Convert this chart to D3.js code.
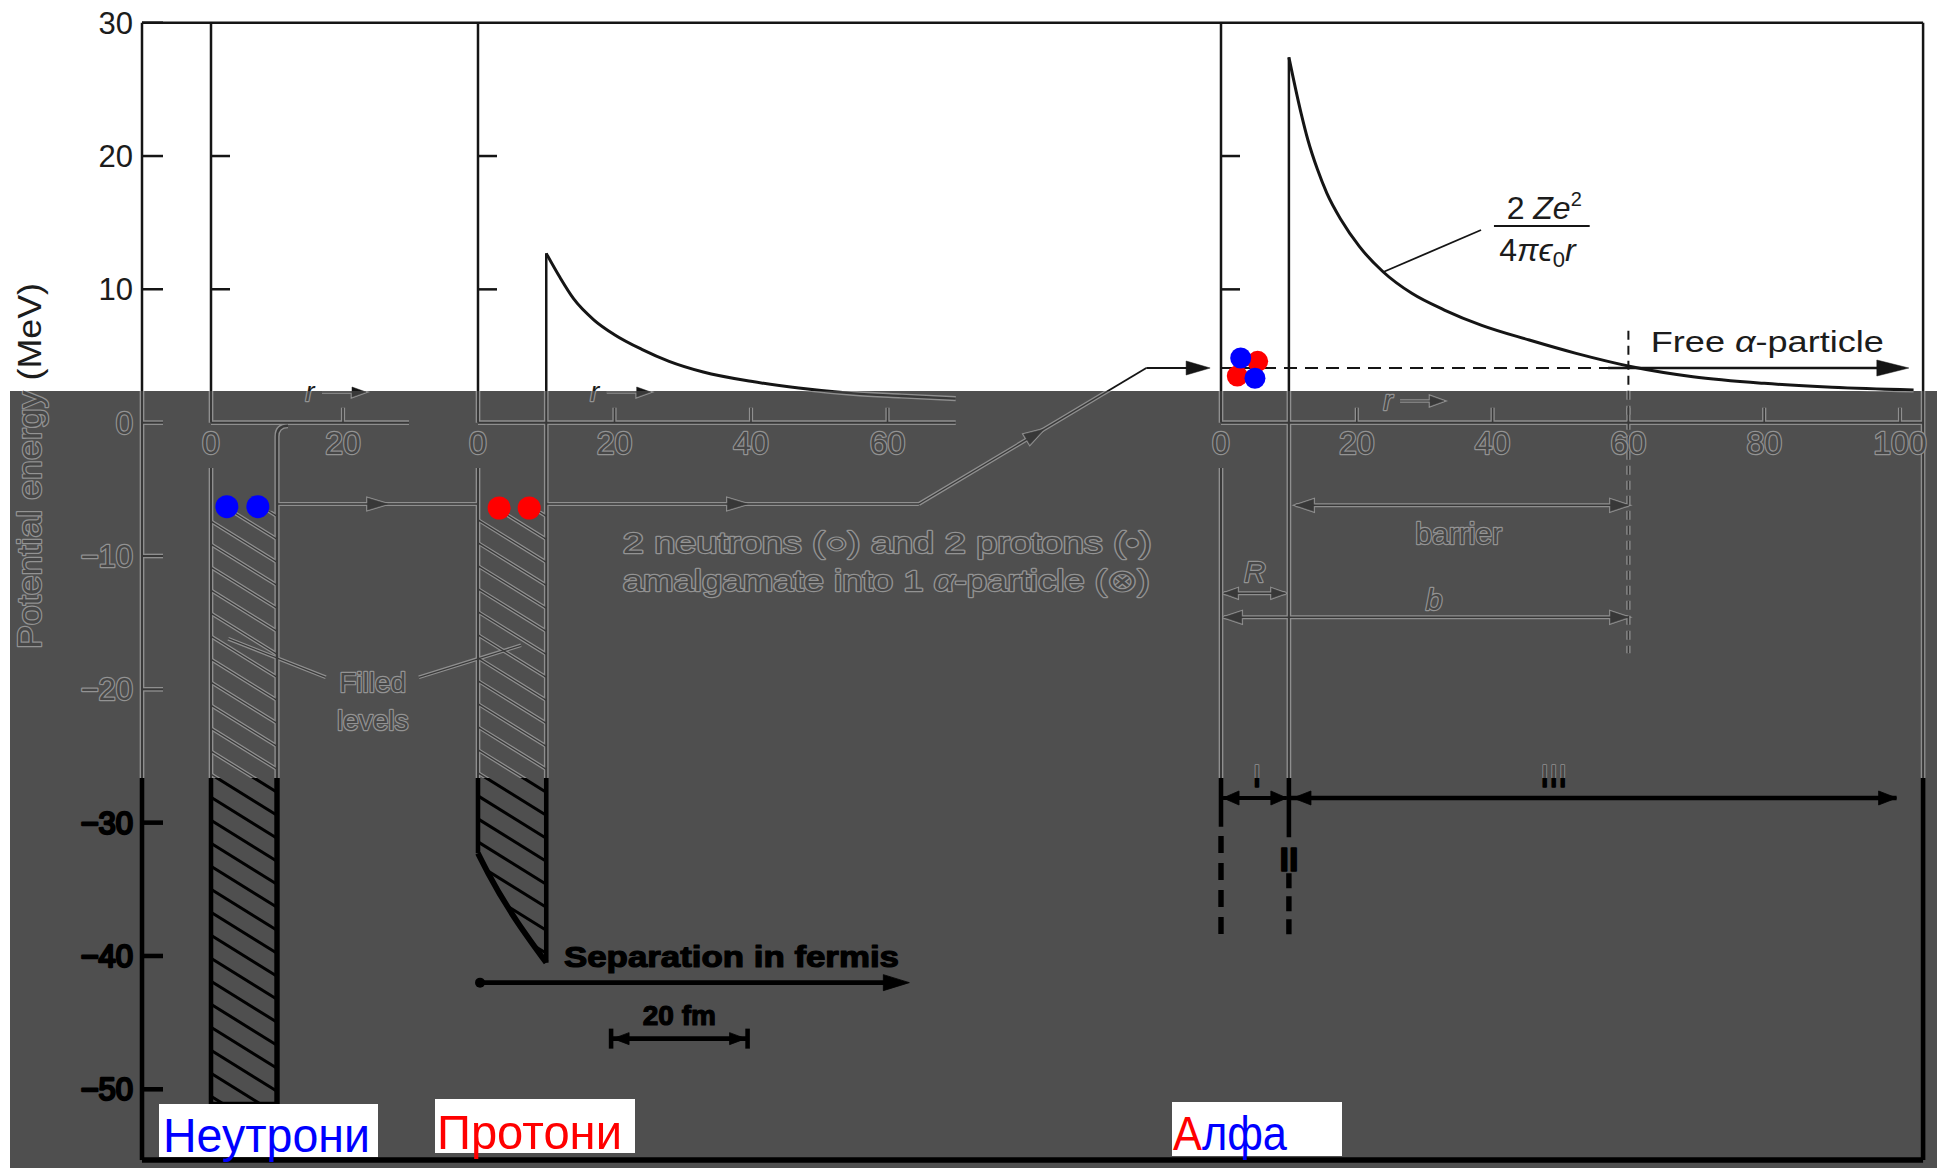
<!DOCTYPE html>
<html><head><meta charset="utf-8">
<script src="https://cdn.jsdelivr.net/npm/d3@7"></script>
<style>body{margin:0;background:#fff} svg{display:block} text{font-family:"Liberation Sans", Arial, sans-serif}</style>
</head><body>
<script>
// ---------------- data ----------------
const energyTicks = [30, 20, 10, 0, -10, -20, -30, -40, -50];
const panelInnerTicks = [20, 10];
const neutronTicks = [0, 20];
const protonTicks = [0, 20, 40, 60];
const alphaTicks = [0, 20, 40, 60, 80, 100];
const protonBarrier = [[10,12.7],[12,10.9],[14,9.3],[17,7.7],[20,6.6],[24,5.5],[28,4.6],[33,3.8],[40,3.1],[47,2.6],[55,2.2],[62,2.0],[70,1.8]];
const alphaBarrier = [[10,27.4],[11.8,23.2],[12.8,21.2],[14.2,19.0],[15.6,17.2],[17.7,15.2],[20.4,13.2],[23.9,11.3],[28.1,9.7],[32.9,8.45],[38.4,7.3],[45.4,6.2],[52.3,5.2],[60.5,4.2],[69.5,3.45],[80,2.95],[90,2.65],[102,2.45]];
const nucleonLevel = -6.1;
const alphaLevel = 4.1;
const nuclearRadius = 10;
const neutronWellDepth = -51.2;
const protonWellBottom = [[0,-32.3],[1.5,-33.8],[10,-40.5]];
const turningPoint = 60;
const neutronDots = [2.4, 7.1];
const protonDots = [3.1, 7.5];
const alphaCluster = [
  {r:5.4, v:4.6, c:"#ff0000"}, {r:2.4, v:3.5, c:"#ff0000"},
  {r:2.9, v:4.85, c:"#0000ff"}, {r:5.0, v:3.33, c:"#0000ff"}];
const bottomLabels = [
  {parts:[{t:"Неутрони", c:"#0000ff"}], box:[159,1104,219,53], tx:163, base:1152, len:207},
  {parts:[{t:"Протони", c:"#ff0000"}], box:[435,1099,200,54], tx:437, base:1149, len:185},
  {parts:[{t:"А", c:"#ff0000"},{t:"лфа", c:"#0000ff"}], box:[1172,1102,170,54], tx:1173, base:1150, len:114}
];

// ---------------- setup ----------------
const W = 1937, H = 1168;
const y  = d3.scaleLinear().domain([-50, 30]).range([1089.3, 22.7]);
const xN = d3.scaleLinear().domain([0, 20]).range([211, 343]);
const xP = d3.scaleLinear().domain([0, 20]).range([478, 614.5]);
const xA = d3.scaleLinear().domain([0, 100]).range([1221, 1900]);
const DARK_TOP = 391, DARK_LEFT = 10, BLACK_TOP = 778;
const TITLE_X = 41, TITLE_Y = 466;

const svg = d3.select("body").append("svg").attr("width", W).attr("height", H);
const defs = svg.append("defs");
defs.append("clipPath").attr("id","zA").append("path")
  .attr("clip-rule","evenodd")
  .attr("d",`M0,0H${W}V${H}H0Z M${DARK_LEFT},${DARK_TOP}H${W}V${H}H${DARK_LEFT}Z`);
defs.append("clipPath").attr("id","zB").append("rect")
  .attr("x",DARK_LEFT).attr("y",DARK_TOP).attr("width",W-DARK_LEFT).attr("height",BLACK_TOP-DARK_TOP);
defs.append("clipPath").attr("id","zC").append("rect")
  .attr("x",DARK_LEFT).attr("y",BLACK_TOP).attr("width",W-DARK_LEFT).attr("height",H-BLACK_TOP);

// text paints that change with the zone (one text element each)
function zoneGrad(id, cols, ops, transform) {
  const gr = defs.append("linearGradient").attr("id", id).attr("gradientUnits","userSpaceOnUse")
    .attr("x1",0).attr("y1",0).attr("x2",0).attr("y2",H);
  if (transform) gr.attr("gradientTransform", transform);
  [[0,0],[DARK_TOP/H,0],[DARK_TOP/H,1],[BLACK_TOP/H,1],[BLACK_TOP/H,2],[1,2]].forEach(([o,i]) =>
    gr.append("stop").attr("offset",o).attr("stop-color",cols[i]).attr("stop-opacity",ops[i]));
}
const fillCols = ["#1c1c1c","#474747","#000"], strokeCols = ["#000","#939393","#000"];
zoneGrad("tf", fillCols, [1,1,1]);
zoneGrad("ts", strokeCols, [0,1,1]);
zoneGrad("tfR", fillCols, [1,1,1], `rotate(90,${TITLE_X},${TITLE_Y})`);
zoneGrad("tsR", strokeCols, [0,1,1], `rotate(90,${TITLE_X},${TITLE_Y})`);

const yTopWall = y(-3.4);
const nx0 = xN(0), nx1 = xN(nuclearRadius), nyb = y(neutronWellDepth);
const px0 = xP(0), px1 = xP(nuclearRadius);
const ax0 = xA(0), ax1 = xA(nuclearRadius);
const hatchTop = y(-6.6);
const neutronPoly = [[nx0,hatchTop],[nx1,hatchTop],[nx1,nyb],[nx0,nyb]];
const protonPoly = [[px0,hatchTop],[px1,hatchTop]].concat(protonWellBottom.slice().reverse().map(d=>[xP(d[0]),y(d[1])]));
defs.append("clipPath").attr("id","wellN").append("path").attr("d", d3.line()(neutronPoly)+"Z");
defs.append("clipPath").attr("id","wellP").append("path").attr("d", d3.line()(protonPoly)+"Z");

svg.append("rect").attr("width",W).attr("height",H).attr("fill","#fff");
svg.append("rect").attr("x",DARK_LEFT).attr("y",DARK_TOP).attr("width",W-DARK_LEFT).attr("height",H-DARK_TOP).attr("fill","#4f4f4f");

const styles = [
  {mode:"lines", clip:"zA", stroke:"#151515", ws:1, wa:0},
  {mode:"lines", clip:"zB", stroke:"#8f8f8f", ws:1, wa:2.2},
  {mode:"lines", clip:"zB", stroke:"#383838", ws:0.8, wa:0},
  {mode:"lines", clip:"zC", stroke:"#000", ws:1.7, wa:0.3},
  {mode:"text"}
];
const fmt = v => v < 0 ? "\u2212" + Math.abs(v) : String(v);

function draw(S) {
  const lines = S.mode === "lines";
  const g = svg.append("g");
  if (S.clip) g.attr("clip-path", `url(#${S.clip})`);
  const sw = w => w*S.ws + S.wa;
  const L = (pts, w, dash, parent) => { if (!lines) return;
    (parent||g).append("path").attr("d", d3.line()(pts))
      .attr("fill","none").attr("stroke",S.stroke).attr("stroke-width", sw(w))
      .attr("stroke-dasharray", dash ? dash.join(",") : null); };
  const C = (pts, w) => { if (!lines) return;
    g.append("path").attr("d", d3.line().curve(d3.curveMonotoneX)(pts))
      .attr("fill","none").attr("stroke",S.stroke).attr("stroke-width", sw(w)); };
  const head = (x, yy, ang, len=18, half=6) => { if (!lines) return;
    const c = Math.cos(ang), s = Math.sin(ang), bx = x - len*c, by = yy - len*s;
    g.append("path").attr("d", `M${x},${yy}L${bx - half*s},${by + half*c}L${bx + half*s},${by - half*c}Z`)
      .attr("fill", S.stroke).attr("stroke", S.stroke).attr("stroke-width", S.wa + 0.5); };
  const dbl = (xa, xb, yy, w, len, half) => { L([[xa,yy],[xb,yy]], w); head(xa,yy,Math.PI,len,half); head(xb,yy,0,len,half); };
  const T = (x, yy, str, size, o={}) => { if (lines) return;
    const t = g.append("text").attr("x",x).attr("y",yy).attr("font-size",size)
      .attr("text-anchor", o.anchor||"start")
      .attr("fill", o.rotate ? "url(#tfR)" : "url(#tf)")
      .attr("stroke", o.rotate ? "url(#tsR)" : "url(#ts)")
      .attr("stroke-width", o.sw || 2.4).attr("paint-order","stroke")
      .attr("stroke-linejoin","round").attr("font-weight", o.bold ? "bold" : "normal")
      .attr("font-style", o.italic ? "italic" : "normal");
    if (o.dy) t.attr("dy", o.dy);
    if (o.rotate) t.attr("transform", `rotate(${o.rotate},${x},${yy})`);
    if (o.len) t.attr("textLength", o.len).attr("lengthAdjust","spacingAndGlyphs");
    if (Array.isArray(str)) str.forEach(sp => {
      const ts = t.append("tspan").text(sp.t);
      if (sp.italic) ts.attr("font-style","italic");
      if (sp.dy) ts.attr("dy", sp.dy);
      if (sp.size) ts.attr("font-size", sp.size);
    }); else t.text(str);
  };
  const hatch = (poly, id, w) => { if (!lines) return;
    const gg = g.append("g").attr("clip-path", `url(#${id})`);
    const [minX,maxX] = d3.extent(poly, d=>d[0]), [minY,maxY] = d3.extent(poly, d=>d[1]);
    const slope = 0.62, span = maxX - minX + 8;
    d3.range(minY - slope*span + 8, maxY + 2, 23).forEach(yy =>
      L([[minX-4, yy],[maxX+4, yy + slope*span]], w, null, gg)); };

  // frame and energy axis
  const fT = y(30), fB = y(-55.3), fL = 142, fR = xA(103.4);
  L([[fL,fT],[fR,fT]], 2.5); L([[fL,fT],[fL,fB]], 2.5); L([[fR,fT],[fR,fB]], 2.5); L([[fL,fB],[fR,fB]], 3);
  energyTicks.forEach(v => { L([[fL,y(v)],[fL+21,y(v)]], 2.5); T(fL-9, y(v), fmt(v), 31, {anchor:"end", dy:"0.35em"}); });
  T(TITLE_X, TITLE_Y, "Potential energy (MeV)", 34, {anchor:"middle", rotate:-90, len:366});

  // panels
  const panels = [
    {x:xN, ticks:neutronTicks, end:30, rArrow:15, rY:392},
    {x:xP, ticks:protonTicks, end:70, rArrow:17.1, rY:392},
    {x:xA, ticks:alphaTicks, end:103.4, rArrow:24.6, rY:401}
  ];
  panels.forEach(p => {
    const x0 = p.x(0);
    L([[x0,y(30)],[x0,y(0)]], 2.5);
    panelInnerTicks.forEach(v => L([[x0,y(v)],[x0+19,y(v)]], 2.5));
    L([[x0,y(0)],[p.x(p.end),y(0)]], 2.5);
    p.ticks.forEach(t => {
      if (t > 0) L([[p.x(t),y(0)],[p.x(t),y(0)-15]], 2);
      T(p.x(t), 443, String(t), 32, {anchor:"middle", dy:"0.35em"});
    });
    const rx = p.x(p.rArrow);
    T(rx, p.rY+9, "r", 27, {italic:true, anchor:"middle"});
    L([[rx+12,p.rY],[rx+44,p.rY]], 1.5); head(rx+56, p.rY, 0, 14, 5);
  });

  // neutron well
  L([[nx0,yTopWall],[nx0,nyb]], 2.5);
  if (lines) g.append("path").attr("d", `M${nx1+11},${y(0)+3}Q${nx1},${y(0)+3} ${nx1},${y(0)+14}L${nx1},${nyb}`)
    .attr("fill","none").attr("stroke",S.stroke).attr("stroke-width", sw(3));
  L([[nx0-2,nyb],[nx1+1,nyb]], 4);
  hatch(neutronPoly, "wellN", 1.6);

  // proton well + barrier
  L([[px0,yTopWall],[px0,y(protonWellBottom[0][1])]], 2.5);
  L([[px1,y(protonBarrier[0][1])],[px1,y(protonWellBottom[protonWellBottom.length-1][1])]], 2.5);
  C(protonBarrier.map(d=>[xP(d[0]),y(d[1])]), 3);
  C(protonWellBottom.map(d=>[xP(d[0]),y(d[1])]), 3.2);
  hatch(protonPoly, "wellP", 1.6);

  // alpha well + barrier
  L([[ax0,yTopWall],[ax0,y(-30.3)]], 2.5);
  L([[ax0,y(-31.0)],[ax0,y(-38.8)]], 3, [17,10]);
  L([[ax1,y(alphaBarrier[0][1])],[ax1,y(-31.1)]], 2.5);
  L([[ax1,y(-33.8)],[ax1,y(-38.8)]], 3, [15,8]);
  C(alphaBarrier.map(d=>[xA(d[0]),y(d[1])]), 3);
  L([[ax0,y(alphaLevel)],[xA(57),y(alphaLevel)]], 2, [13,8]);
  L([[xA(57),y(alphaLevel)],[xA(99),y(alphaLevel)]], 2.5);
  head(xA(101.3), y(alphaLevel), 0, 32, 8);
  L([[xA(turningPoint),y(6.9)],[xA(turningPoint),y(-17.3)]], 2, [9,6]);

  // formula
  T(xA(47.6), y(15.3), [{t:"2 "},{t:"Ze", italic:true},{t:"2", dy:"-13", size:20}], 32, {anchor:"middle"});
  L([[xA(40.2),y(14.75)],[xA(54.3),y(14.75)]], 2);
  T(xA(46.6), y(12.1), [{t:"4"},{t:"π", italic:true},{t:"ϵ", italic:true},{t:"0", dy:"6", size:22},{t:"r", italic:true, dy:"-6"}], 32, {anchor:"middle"});
  L([[xA(38.3),y(14.45)],[xA(23.9),y(11.3)]], 1.8);
  T(xA(63.3), y(5.3), [{t:"Free "},{t:"α", italic:true},{t:"-particle"}], 30, {len:233});

  // nucleon path arrows
  const yl = y(nucleonLevel), ya = y(alphaLevel);
  L([[nx1,yl],[px0,yl]], 1.8); head((nx1+px0)/2 + 10, yl, 0, 20, 6);
  L([[px1,yl],[xA(-44.5),yl]], 1.8); head(xP(38) + 10, yl, 0, 20, 6);
  const d0 = [xA(-44.5), yl], d1 = [xA(-11), ya];
  L([d0, d1], 1.8);
  const ang = Math.atan2(d1[1]-d0[1], d1[0]-d0[0]);
  head(d0[0] + 0.55*(d1[0]-d0[0]), d0[1] + 0.55*(d1[1]-d0[1]), ang, 20, 6);
  L([d1, [xA(-3),ya]], 1.8); head(xA(-1.6), ya, 0, 24, 7);

  T(xP(21.2), y(-9.8), "2 neutrons (○) and 2 protons (•)", 30, {len:529});
  T(xP(21.2), y(-12.6), [{t:"amalgamate into 1 "},{t:"α", italic:true},{t:"-particle (⊗)"}], 30, {len:527});

  // filled levels
  T(xN(24.5), y(-19.5), "Filled", 28, {anchor:"middle", dy:"0.35em"});
  T(xN(24.5), y(-22.3), "levels", 28, {anchor:"middle", dy:"0.35em"});
  L([[xN(17.4),y(-19.1)],[xN(2.6),y(-16.2)]], 1.5);
  L([[xN(31.5),y(-19.1)],[xP(6.3),y(-16.7)]], 1.5);

  // barrier / R / b annotations
  dbl(xA(11), xA(60), y(-6.2), 1.8, 18, 6);
  T(xA(35), y(-8.3), "barrier", 30, {anchor:"middle", dy:"0.35em"});
  dbl(xA(0.4), xA(9.5), y(-12.8), 1.8, 14, 5);
  T(xA(5), y(-11.2), "R", 30, {anchor:"middle", dy:"0.35em", italic:true});
  dbl(xA(0.4), xA(60), y(-14.6), 1.8, 18, 6);
  T(xA(31.4), y(-13.3), "b", 30, {anchor:"middle", dy:"0.35em", italic:true});

  // regions I, II, III
  const yI = y(-28.15);
  dbl(xA(0.3), xA(9.7), yI, 2.2, 16, 7);
  L([[xA(10),yI],[xA(99.5),yI]], 2.4); head(xA(10.6), yI, Math.PI, 18, 7); head(xA(99.5), yI, 0, 18, 7);
  T(xA(5.3), y(-27.3), "I", 32, {anchor:"middle", sw:1.5});
  T(xA(49), y(-27.3), "III", 32, {anchor:"middle", sw:1.5});
  T(ax1, y(-33.6), "II", 34, {anchor:"middle", bold:true, sw:1.5});

  // separation scale
  T(xP(12.6), y(-40.8), "Separation in fermis", 30, {bold:true, len:335, sw:1.2});
  if (lines) g.append("circle").attr("cx", xP(0.3)).attr("cy", y(-42)).attr("r", 5).attr("fill", S.stroke);
  L([[xP(0.3),y(-42)],[xP(61.5),y(-42)]], 2.5); head(xP(63.2), y(-42), 0, 26, 8);
  T(xP(29.5), y(-45.2), "20 fm", 28, {bold:true, anchor:"middle", sw:1.2});
  const yb = y(-46.2), bl = xP(19.5), br = xP(39.5);
  L([[bl,yb],[br,yb]], 2.5); head(bl+2, yb, Math.PI, 16, 6); head(br-2, yb, 0, 16, 6);
  L([[bl,yb-10],[bl,yb+10]], 2.5); L([[br,yb-10],[br,yb+10]], 2.5);
}
styles.forEach(draw);

// coloured particles
const overlay = svg.append("g");
overlay.selectAll("circle.n").data(neutronDots).join("circle").attr("class","n")
  .attr("cx", d => xN(d)).attr("cy", y(-6.3)).attr("r", 11.5).attr("fill", "#0000ff");
overlay.selectAll("circle.p").data(protonDots).join("circle").attr("class","p")
  .attr("cx", d => xP(d)).attr("cy", y(-6.4)).attr("r", 11.5).attr("fill", "#ff0000");
overlay.selectAll("circle.a").data(alphaCluster).join("circle").attr("class","a")
  .attr("cx", d => xA(d.r)).attr("cy", d => y(d.v)).attr("r", 10.5).attr("fill", d => d.c);

// bottom labels
bottomLabels.forEach(b => {
  overlay.append("rect").attr("x",b.box[0]).attr("y",b.box[1]).attr("width",b.box[2]).attr("height",b.box[3]).attr("fill","#fff");
  const t = overlay.append("text").attr("x",b.tx).attr("y",b.base).attr("font-size",49)
    .attr("textLength", b.len).attr("lengthAdjust","spacingAndGlyphs");
  b.parts.forEach(p => t.append("tspan").text(p.t).attr("fill", p.c));
});
</script>
</body></html>
